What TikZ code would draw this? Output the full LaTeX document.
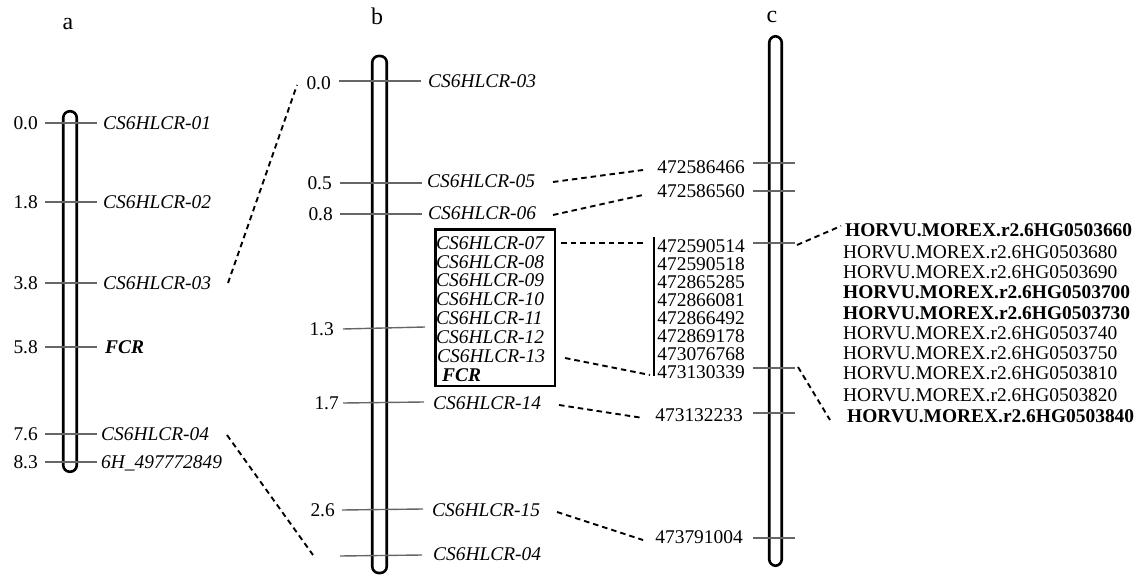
\documentclass[tikz,border=0pt]{standalone}
\usepackage{fontspec}
\setmainfont{Liberation Serif}
\newcommand\fsz{\fontsize{19.5}{19.5}\selectfont}
\newcommand\fbig{\fontsize{24}{24}\selectfont}
\begin{document}
\begin{tikzpicture}[x=1bp,y=-1bp,
  txt/.style={inner sep=0pt, text height=13.3bp, text depth=0pt, font=\fsz},
  panel/.style={txt, font=\fbig},
  itl/.style={txt, font=\fsz\itshape},
  bit/.style={txt, font=\fsz\bfseries\itshape},
  bld/.style={txt, font=\fsz\bfseries},
  chrom/.style={draw, line width=2.6pt, rounded corners=6.5bp, inner sep=0pt},
  tick/.style={draw=black!60, line width=1.4pt},
  link/.style={line width=1.9pt, dash pattern=on 5.5bp off 4bp},
  boxed/.style={draw, line width=2.5pt, inner sep=0pt, anchor=north west}]
\useasboundingbox (0,0) rectangle (1148,575);

% ---------------- panel a ----------------
\node[panel] (la) at (68,23) {a};
\node[chrom, minimum width=13.5bp, minimum height=360.5bp] (ca) at (70,291.5) {};
\foreach \y in {123,202,283,347,434,462} \draw[tick] (45,\y) -- (97,\y);
\node[txt, anchor=east] (an1) at (38,123) {0.0};
\node[txt, anchor=east] (an2) at (38,202) {1.8};
\node[txt, anchor=east] (an3) at (38,283) {3.8};
\node[txt, anchor=east] (an4) at (38,347) {5.8};
\node[txt, anchor=east] (an5) at (38,434) {7.6};
\node[txt, anchor=east] (an6) at (38,462) {8.3};
\node[itl, anchor=west] (am1) at (103,123) {CS6HLCR-01};
\node[itl, anchor=west] (am2) at (103,202) {CS6HLCR-02};
\node[itl, anchor=west] (am3) at (103,283) {CS6HLCR-03};
\node[bit, anchor=west] (am4) at (105,347) {FCR};
\node[itl, anchor=west] (am5) at (101,434) {CS6HLCR-04};
\node[itl, anchor=west] (am6) at (101,462) {6H\_497772849};

% ---------------- panel b ----------------
\node[panel] (lb) at (377,18) {b};
\node[chrom, minimum width=14.5bp, minimum height=517bp] (cb) at (379.5,314.5) {};
\draw[tick] (339,81) -- (421,81);
\draw[tick] (340,183) -- (422,183);
\draw[tick] (340,214) -- (422,214);
\draw[tick] (343,329) -- (425,327);
\draw[tick] (343,403) -- (424,402);
\draw[tick] (342,510) -- (423,509);
\draw[tick] (340,556) -- (422,555);
\node[txt, anchor=east] (bn1) at (331,83) {0.0};
\node[txt, anchor=east] (bn2) at (332,183) {0.5};
\node[txt, anchor=east] (bn3) at (333,214) {0.8};
\node[txt, anchor=east] (bn4) at (334,329) {1.3};
\node[txt, anchor=east] (bn5) at (339,403) {1.7};
\node[txt, anchor=east] (bn6) at (335,510) {2.6};
\node[itl, anchor=west] (bm03) at (428,81) {CS6HLCR-03};
\node[itl, anchor=west] (bm05) at (427,181) {CS6HLCR-05};
\node[itl, anchor=west] (bm06) at (428,213) {CS6HLCR-06};
\node[boxed, minimum width=119.5bp, minimum height=156.5bp] (box) at (434.25,228.25) {};
\node[itl, anchor=west] (bm07) at (436,243) {CS6HLCR-07};
\node[itl, anchor=west] (bm08) at (436,262) {CS6HLCR-08};
\node[itl, anchor=west] (bm09) at (436,280) {CS6HLCR-09};
\node[itl, anchor=west] (bm10) at (436,299) {CS6HLCR-10};
\node[itl, anchor=west] (bm11) at (436,318) {CS6HLCR-11};
\node[itl, anchor=west] (bm12) at (436,337) {CS6HLCR-12};
\node[itl, anchor=west] (bm13) at (437,356) {CS6HLCR-13};
\node[bit, anchor=west] (bmfcr) at (442,375) {FCR};
\node[itl, anchor=west] (bm14) at (433,403) {CS6HLCR-14};
\node[itl, anchor=west] (bm15) at (432,510) {CS6HLCR-15};
\node[itl, anchor=west] (bm04) at (433,554) {CS6HLCR-04};

% ---------------- panel c ----------------
\node[panel] (lc) at (772,16) {c};
\node[chrom, minimum width=12.5bp, minimum height=529.5bp] (cc) at (775.5,301) {};
\foreach \y in {163,191,243,368,413,538} \draw[tick] (753,\y) -- (795,\y);
\node[txt, anchor=east] (cn1) at (745,167) {472586466};
\node[txt, anchor=east] (cn2) at (745,191) {472586560};
\node[txt, anchor=east] (cn3) at (745,246) {472590514};
\node[txt, anchor=east] (cn4) at (745,264) {472590518};
\node[txt, anchor=east] (cn5) at (745,282) {472865285};
\node[txt, anchor=east] (cn6) at (745,300) {472866081};
\node[txt, anchor=east] (cn7) at (745,318) {472866492};
\node[txt, anchor=east] (cn8) at (745,336) {472869178};
\node[txt, anchor=east] (cn9) at (745,354) {473076768};
\node[txt, anchor=east] (cn10) at (745,372) {473130339};
\node[txt, anchor=east] (cn11) at (743,415) {473132233};
\node[txt, anchor=east] (cn12) at (743,537) {473791004};
\coordinate (brt) at (654,237);
\coordinate (brb) at (654,376);
\draw[line width=1.5pt] (brt) -- (brb);

\node[bld, anchor=west] (h1) at (845,230) {HORVU.MOREX.r2.6HG0503660};
\node[txt, anchor=west] (h2) at (843,252) {HORVU.MOREX.r2.6HG0503680};
\node[txt, anchor=west] (h3) at (843,272) {HORVU.MOREX.r2.6HG0503690};
\node[bld, anchor=west] (h4) at (843,292) {HORVU.MOREX.r2.6HG0503700};
\node[bld, anchor=west] (h5) at (843,313) {HORVU.MOREX.r2.6HG0503730};
\node[txt, anchor=west] (h6) at (843,333) {HORVU.MOREX.r2.6HG0503740};
\node[txt, anchor=west] (h7) at (843,353) {HORVU.MOREX.r2.6HG0503750};
\node[txt, anchor=west] (h8) at (843,373) {HORVU.MOREX.r2.6HG0503810};
\node[txt, anchor=west] (h9) at (843,395) {HORVU.MOREX.r2.6HG0503820};
\node[bld, anchor=west] (h10) at (847,416) {HORVU.MOREX.r2.6HG0503840};

% ---------------- dashed links ----------------
\coordinate (d1s) at (228,283); \coordinate (d1e) at (297,85);
\coordinate (d2s) at (227,435); \coordinate (d2e) at (313,555);
\coordinate (d3s) at (553,182); \coordinate (d3e) at (643,170);
\coordinate (d4s) at (553,215); \coordinate (d4e) at (643,195);
\coordinate (d5s) at (561,243); \coordinate (d5e) at (643,243);
\coordinate (d6s) at (565,358); \coordinate (d6e) at (650,375);
\coordinate (d7s) at (559,405); \coordinate (d7e) at (643,418);
\coordinate (d8s) at (557,512); \coordinate (d8e) at (643,540);
\coordinate (d9s) at (797,245); \coordinate (d9e) at (841,226);
\coordinate (d10s) at (798,367); \coordinate (d10e) at (830,420);
\foreach \k in {1,...,10} \draw[link] (d\k s) -- (d\k e);
\end{tikzpicture}
\end{document}
